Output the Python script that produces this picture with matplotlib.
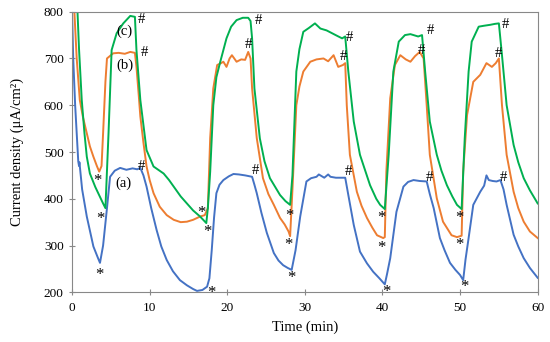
import matplotlib
matplotlib.use("Agg")
import matplotlib.pyplot as plt

# ---- data (time in min, current density in uA/cm2) ----
t_a = [0.0, 0.15, 0.4, 0.8, 0.9, 0.95, 1.3, 1.9, 2.75, 3.3, 3.6, 4.0, 4.5, 4.9, 5.5, 6.2, 7.0, 7.8, 8.4, 8.8,
       9.2, 9.6, 10.2, 10.9, 11.5, 12.2, 13.0, 13.9, 14.8, 15.6, 16.1, 16.8, 17.4, 17.7, 18.0, 18.3, 18.6, 19.0,
       19.5, 20.2, 20.8, 21.5, 22.3, 23.2, 23.5, 23.8, 24.4, 25.1, 26.0, 26.6, 27.2, 27.8, 28.3, 28.8, 29.4,
       30.2, 30.8, 31.5, 31.8, 32.5, 33.0, 33.3, 34.0, 35.2, 35.6, 36.3, 37.1, 38.0, 38.8, 39.6, 40.3, 40.6,
       41.0, 41.8, 42.7, 43.3, 44.0, 44.8, 45.7, 46.1, 46.6, 47.4, 48.0, 48.7, 49.4, 50.0, 50.4, 50.7, 51.1,
       51.7, 52.6, 53.1, 53.4, 53.7, 54.2, 54.7, 55.2, 55.6, 56.0, 56.9, 57.5, 58.2, 59.0, 60.0]
v_a = [800, 700, 600, 480, 470, 478, 420, 362, 298, 275, 263, 300, 380, 447, 460, 466, 462, 465, 463, 466,
       450, 426, 380, 333, 298, 269, 245, 226, 215, 207, 203, 205, 212, 230, 290, 360, 412, 430,
       440, 448, 453, 452, 450, 447, 430, 412, 370, 327, 284, 268, 258, 252, 248, 290, 362,
       437, 444, 447, 452, 445, 452, 447, 445, 445, 408, 344, 287, 262, 244, 230, 217, 240,
       273, 372, 426, 436, 440, 438, 437, 410, 380, 316, 290, 263, 248, 237, 226, 270, 316,
       387, 415, 428, 450, 440, 438, 437, 440, 420, 387, 323, 298, 273, 252, 231]

t_b = [0.3, 0.6, 1.0, 1.4, 1.9, 2.3, 2.75, 3.2, 3.5, 3.8, 4.0, 4.3, 4.5, 5.3, 6.0, 6.8, 7.5, 8.1, 8.3, 8.6,
       8.8, 9.2, 9.6, 10.0, 10.5, 11.3, 12.2, 13.1, 14.0, 14.8, 15.6, 16.5, 17.1, 17.5, 17.8, 18.2, 18.7,
       19.2, 19.5, 19.9, 20.3, 20.6, 21.2, 21.8, 22.3, 22.7, 23.0, 23.2, 23.8, 24.6, 25.3, 26.0, 26.8,
       27.4, 27.9, 28.1, 28.4, 28.9, 29.3, 29.8, 30.7, 31.5, 32.4, 33.0, 33.7, 34.3, 34.9, 35.2, 35.4,
       35.8, 36.7, 37.3, 38.0, 38.7, 39.3, 40.1, 40.3, 40.5, 41.0, 41.6, 42.3, 43.0, 43.6, 44.2, 44.8,
       45.3, 45.7, 46.1, 47.0, 47.8, 48.9, 49.6, 50.2, 50.4, 50.9, 51.7, 52.6, 53.4, 54.1, 54.6, 55.0,
       55.4, 56.0, 56.9, 57.5, 58.2, 59.0, 60.0]
v_b = [800, 700, 611, 575, 540, 512, 490, 470, 458, 470, 540, 650, 700, 711, 712, 710, 714, 712, 682, 620,
       576, 520, 469, 440, 412, 383, 365, 355, 350, 351, 355, 362, 365, 380, 530, 636, 686,
       690, 693, 682, 700, 707, 693, 698, 697, 714, 700, 636, 530, 444, 410, 387, 359,
       345, 330, 320, 420, 600, 640, 672, 693, 698, 700, 694, 707, 682, 686, 690, 600,
       494, 415, 385, 359, 338, 322, 316, 318, 458, 615, 686, 707, 698, 693, 705, 714,
       700, 600, 494, 401, 351, 322, 318, 321, 458, 579, 650, 665, 690, 682, 690, 700,
       600, 494, 415, 380, 351, 330, 316]

t_c = [0.7, 0.9, 1.25, 1.6, 1.9, 2.3, 3.0, 3.6, 4.0, 4.3, 4.7, 5.1, 5.75, 6.6, 7.5, 8.1, 8.3, 8.8, 9.6, 10.5,
       11.8, 12.5, 13.1, 14.0, 14.8, 15.6, 16.5, 17.3, 17.5, 17.8, 18.2, 18.6, 19.1, 19.9, 20.5, 21.2, 22.0,
       22.7, 23.0, 23.2, 23.5, 24.2, 24.8, 25.5, 26.8, 27.5, 28.1, 28.4, 28.9, 29.3, 29.8, 30.5, 31.3, 32.0,
       32.8, 33.5, 34.2, 34.8, 35.2, 35.6, 36.3, 37.1, 38.4, 39.2, 39.7, 40.3, 40.8, 41.4, 42.1, 42.9, 43.6,
       44.6, 45.1, 45.5, 46.1, 47.0, 47.6, 48.3, 49.0, 49.6, 50.2, 50.6, 51.1, 51.5, 52.4, 53.1, 53.9, 54.5,
       55.0, 55.4, 56.0, 56.9, 57.5, 58.2, 59.0, 60.0]
v_c = [800, 720, 611, 540, 490, 454, 425, 404, 390, 380, 540, 718, 754, 775, 791, 789, 718, 611, 504, 469,
       454, 440, 426, 405, 390, 375, 362, 348, 380, 458, 600, 660, 693, 743, 768, 782, 787,
       787, 780, 743, 636, 529, 480, 444, 408, 395, 387, 450, 672, 720, 757, 765, 775, 764,
       760, 754, 748, 743, 747, 672, 565, 494, 429, 400, 387, 378, 494, 672, 736, 750, 752,
       747, 750, 672, 565, 494, 460, 429, 405, 387, 378, 529, 672, 736, 768, 770, 772, 774,
       775, 707, 600, 515, 478, 444, 418, 390]

hash_t = [9.0, 9.35, 9.0, 24.0, 22.7, 23.6, 35.8, 35.0, 35.6, 46.2, 45.0, 46.1, 55.9, 54.9, 55.6]
hash_v = [784, 713, 470, 782, 729, 460, 745, 704, 458, 759, 717, 446, 772, 710, 446]
star_t = [3.3, 3.6, 3.5, 16.7, 17.5, 18.0, 28.0, 27.9, 28.2, 39.9, 39.9, 40.5, 49.9, 49.9, 50.5]
star_v = [445, 362, 244, 376, 335, 205, 369, 307, 236, 364, 301, 207, 365, 307, 217]

labels = ["(a)", "(b)", "(c)"]
label_t = [6.6, 6.8, 6.8]
label_v = [433, 686, 759]

xticks = [0, 10, 20, 30, 40, 50, 60]
yticks = [200, 300, 400, 500, 600, 700, 800]

# ---- plot ----
plt.rcParams['font.family'] = ['Liberation Serif', 'DejaVu Serif']
fig = plt.figure(figsize=(5.5, 3.42), dpi=100)
ax = fig.add_axes([0.131, 0.1453, 0.8466, 0.8205])

ax.plot(t_a, v_a, color='#4472C4', lw=1.4)
ax.plot(t_b, v_b, color='#ED7D31', lw=1.4)
ax.plot(t_c, v_c, color='#00B050', lw=1.4)

for x, y in zip(hash_t, hash_v):
    ax.text(x, y, '#', fontsize=10.5, ha='center', va='center', color='black')
for x, y in zip(star_t, star_v):
    ax.text(x, y - 6, '*', fontsize=12, ha='center', va='center', color='black')
for s, x, y in zip(labels, label_t, label_v):
    ax.text(x, y, s, fontsize=10.5, ha='center', va='center', color='black')

ax.set_xlim(0, 60)
ax.set_ylim(200, 800)
ax.set_xticks(xticks)
ax.set_yticks(yticks)
ax.tick_params(direction='inout', length=4, width=0.8, color='#888888', labelsize=9.5)
ax.tick_params(axis='x', pad=5)
ax.tick_params(axis='y', pad=4)
for sp in ax.spines.values():
    sp.set_color('#888888')
    sp.set_linewidth(0.8)
ax.set_xlabel('Time (min)', fontsize=10.5, labelpad=5)
ax.set_ylabel('Current density (μA/cm²)', fontsize=10.5, labelpad=14)

fig.savefig('out.png', dpi=100)
